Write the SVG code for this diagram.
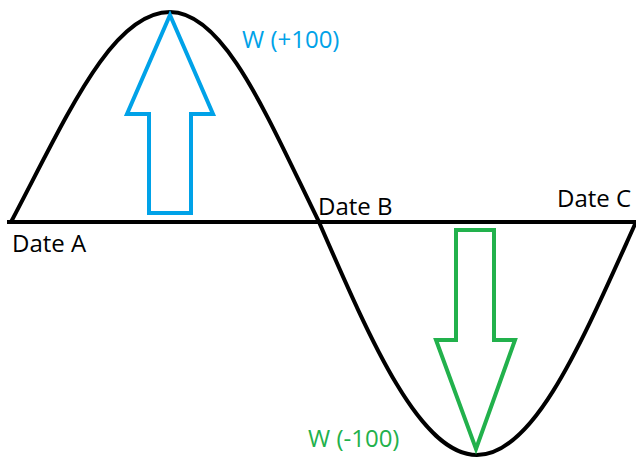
<svg xmlns="http://www.w3.org/2000/svg" width="636" height="458" viewBox="0 0 636 458">
<style>
.lbl{font-family:"Open Sans","Noto Sans",sans-serif;font-size:24px}
.blk{fill:#000}
.blue{fill:#00A2E8}
.green{fill:#22B14C}
.arrow{fill:none;stroke-width:4;stroke-linejoin:miter}
</style>
<rect width="636" height="458" fill="#fff"/>
<g id="axis">
<line x1="7" y1="222" x2="636" y2="222" stroke="#000" stroke-width="4"/>
</g>
<g id="wave">
<path d="M11,222 C68,114 112,12 170,12 C224,12 266,114 319,222 C371,341.4 420,455 477,455 C534.5,455 582,341.4 636,222" fill="none" stroke="#000" stroke-width="4"/>
</g>
<g id="up-arrow">
<polygon class="arrow" stroke="#00A2E8" points="170,15 213,114 191,114 191,213 149,213 149,114 127,114"/>
</g>
<g id="down-arrow">
<polygon class="arrow" stroke="#22B14C" points="456,230 494,230 494,340 515,340 476,449 436,340 456,340"/>
</g>
<g id="labels">
<text class="lbl blk" x="12" y="252">Date A</text>
<text class="lbl blk" x="318" y="215">Date B</text>
<text class="lbl blk" x="557" y="207">Date C</text>
<text class="lbl blue" x="242" y="48">W (+100)</text>
<text class="lbl green" x="308" y="447">W (-100)</text>
</g>
</svg>
